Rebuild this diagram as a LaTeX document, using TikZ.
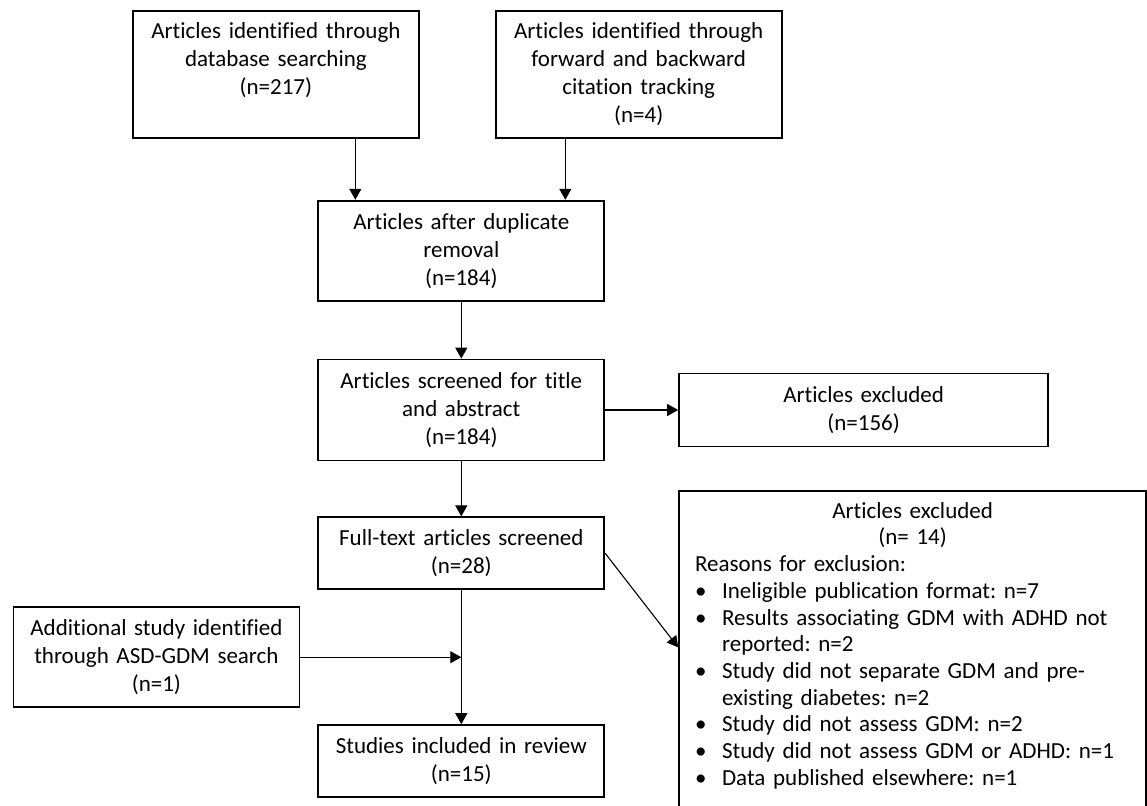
\documentclass[tikz,border=0pt]{standalone}
\usepackage{fontspec}
\setmainfont{Carlito}[Ligatures=NoCommon]
\usepackage{tikz}
\usetikzlibrary{arrows.meta,positioning,calc}
\definecolor{InkBlack}{HTML}{000000}
\newcommand{\reason}[1]{\hangindent=13.5pt\hangafter=1\noindent\makebox[13.5pt][l]{\textbullet}#1\par}
\tikzset{
  box/.style={draw=InkBlack,line width=0.9pt,align=center,text width=135pt,inner xsep=4pt,
              font=\fontsize{11.5pt}{14pt}\selectfont},
  widebox/.style={box,text width=176.5pt},
  listbox/.style={draw=InkBlack,line width=0.9pt,text width=217.5pt,inner xsep=8pt,inner ysep=5.5pt,
              execute at begin node={\setlength{\parindent}{0pt}\frenchspacing},
              font=\fontsize{11.5pt}{13.35pt}\selectfont},
  flow/.style={-{Triangle[length=5.5pt,width=6pt]},line width=0.55pt,draw=InkBlack}
}
\begin{document}
\begin{tikzpicture}
  \path[use as bounding box,clip] (0,0) rectangle (573.5pt,-403pt);
  \node[box,minimum height=63.5pt,anchor=north west] (dbase) at (66pt,-5pt) {Articles identified through\\database searching\\(n=217)\\\vphantom{(}};
  \node[box,minimum height=63.5pt,right=37.5pt of dbase] (cite) {Articles identified through\\forward and backward\\citation tracking\\(n=4)};
  \coordinate (mid) at ($(dbase.south east)!0.5!(cite.south west)$);
  \node[box,minimum height=50pt,below=30.5pt of mid,xshift=2pt] (dedup) {Articles after duplicate\\removal\\(n=184)};
  \node[box,minimum height=50.5pt,below=28.5pt of dedup] (screen) {Articles screened for title\\and abstract\\(n=184)};
  \node[widebox,minimum height=36.5pt,right=36.5pt of screen] (excl1) {Articles excluded\\(n=156)};
  \node[box,minimum height=36pt,below=27.5pt of screen] (fulltext) {Full-text articles screened\\(n=28)};
  \node[box,minimum height=36pt,below=67pt of fulltext] (included) {Studies included in review\\(n=15)};
  \coordinate (join) at ($(fulltext.south)!0.5!(included.north)$);
  \node[box,minimum height=50pt,left=80.5pt of join] (extra) {Additional study identified\\through ASD-GDM search\\(n=1)};
  \node[listbox,below=21.5pt of excl1.south west,anchor=north west] (excl2) {%
    {\centering Articles excluded\\(n= 14)\par}
    \raggedright Reasons for exclusion:\par
    \reason{Ineligible publication format: n=7}
    \reason{Results associating GDM with ADHD not\newline reported: n=2}
    \reason{Study did not separate GDM and pre-\newline existing diabetes: n=2}
    \reason{Study did not assess GDM: n=2}
    \reason{Study did not assess GDM or ADHD: n=1}
    \reason{Data published elsewhere: n=1}
    \rule{0pt}{20pt}};

  \draw[flow] ($(dbase.south west)!0.776!(dbase.south east)$) coordinate (a1) -- (a1 |- dedup.north);
  \draw[flow] ($(cite.south west)!0.245!(cite.south east)$) coordinate (b1) -- (b1 |- dedup.north);
  \draw[flow] (dedup) -- (screen);
  \draw[flow] (screen) -- (excl1);
  \draw[flow] (screen) -- (fulltext);
  \draw[flow] (fulltext) -- (included);
  \draw[flow] (extra.east) -- (join);
  \draw[flow] (fulltext.east) -- ($(excl2.north west)+(0,-78.5pt)$);
\end{tikzpicture}
\end{document}
